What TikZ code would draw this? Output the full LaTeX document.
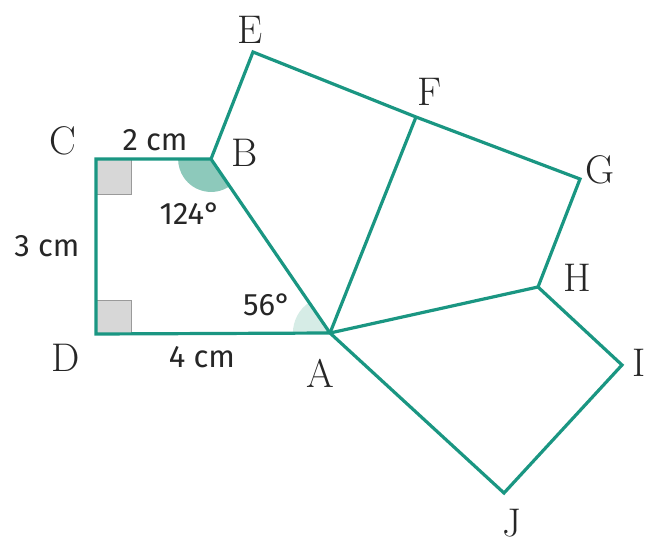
\documentclass[tikz,border=0pt]{standalone}
\usepackage{fontspec}
\setsansfont{Fira Sans}
\usetikzlibrary{calc}
\definecolor{teal1}{HTML}{1A9682}
\definecolor{angdark}{HTML}{8DC9BB}
\definecolor{anglight}{HTML}{D6ECE6}
\definecolor{sqfill}{HTML}{D7D7D7}
\definecolor{sqline}{HTML}{9A9A9A}
\tikzset{
  edge/.style={draw=teal1, line width=3.2pt, line join=miter},
  ptlabel/.style={font=\fontsize{40}{40}\selectfont, text=black!85, inner sep=0pt},
  meas/.style={font=\sffamily\fontsize{31}{31}\selectfont, text=black!85, inner sep=0pt},
  rightsq/.style={fill=sqfill, draw=sqline, line width=1pt}
}
\begin{document}
\begin{tikzpicture}[x=1pt,y=-1pt]
\useasboundingbox (0,0) rectangle (657,551);
\coordinate (A) at (330,333);
\coordinate (B) at (211,159);
\coordinate (C) at (96,159);
\coordinate (D) at (96,334);
\coordinate (E) at (253,52);
\coordinate (F) at (416,117);
\coordinate (G) at (580,179);
\coordinate (H) at (538,287);
\coordinate (I) at (622,365);
\coordinate (J) at (504,493);
% right-angle marks
\draw[rightsq] (C) rectangle ++(35,35);
\draw[rightsq] (D) rectangle ++(35,-34);
% angle sectors
\fill[angdark] (B) -- ($(B)!33pt!(A)$) arc[start angle=-55.8, end angle=-180, radius=33pt] -- cycle;
\fill[anglight] (A) -- ($(A)!37pt!(B)$) arc[start angle=124.2, end angle=180, radius=37pt] -- cycle;
% edges
\draw[edge] (C) -- (B) -- (A) -- (D) -- cycle;
\draw[edge] (B) -- (E) -- (F) -- (G) -- (H) -- (I) -- (J) -- (A);
\draw[edge] (A) -- (F);
\draw[edge] (A) -- (H);
% point labels
\node[ptlabel] (lA) at (320,373) {A};
\node[ptlabel] (lB) at (245,153) {B};
\node[ptlabel] (lC) at (63,141) {C};
\node[ptlabel] (lD) at (66,358) {D};
\node[ptlabel] (lE) at (250,30) {E};
\node[ptlabel] (lF) at (430,92) {F};
\node[ptlabel] (lG) at (600,170) {G};
\node[ptlabel] (lH) at (577,278) {H};
\node[ptlabel] (lI) at (639,363) {I};
\node[ptlabel] (lJ) at (512,523) {J};
% measurements
\node[meas] (m2) at (155,140) {2 cm};
\node[meas] (m3) at (47,246) {3 cm};
\node[meas] (m4) at (202,357) {4 cm};
\node[meas] (a124) at (190,214) {124°};
\node[meas] (a56) at (267,305) {56°};
\end{tikzpicture}
\end{document}
